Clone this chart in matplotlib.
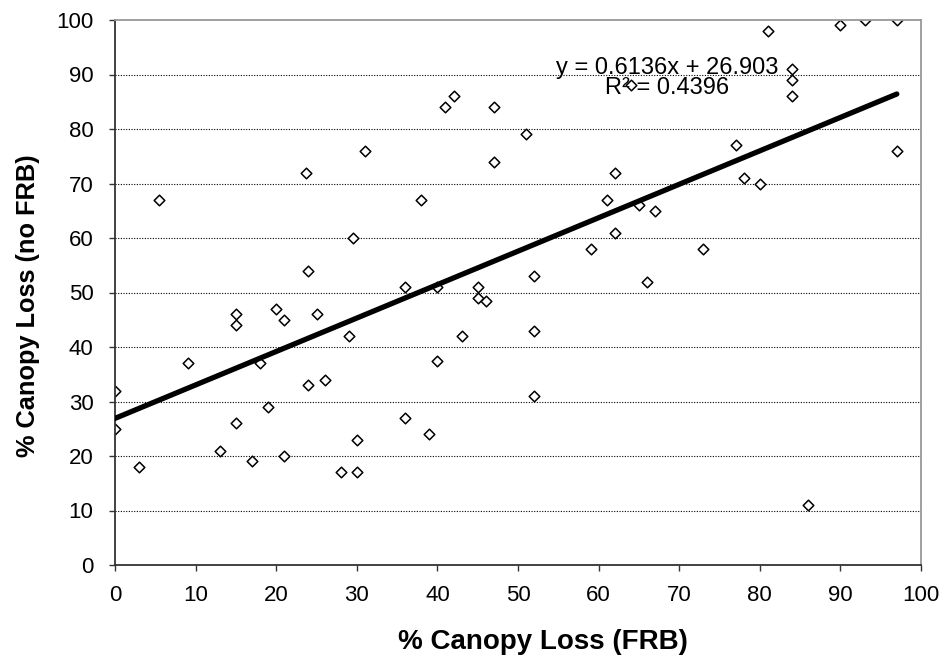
import numpy as np
import matplotlib.pyplot as plt

# % canopy loss, with FRB (x) and without FRB (y)
frb = [0, 0, 3, 5.4, 9, 13, 15, 15, 15, 17, 18, 19, 20, 21, 21, 23.7, 24, 24,
       25, 26, 28, 29, 29.5, 30, 30, 31, 36, 36, 38, 39, 40, 40, 41, 42, 43,
       45, 45, 46, 47, 47, 51, 52, 52, 52, 59, 61, 62, 62, 64, 65, 66, 67, 73,
       77, 78, 80, 81, 84, 84, 84, 86, 90, 93, 97, 97]
no_frb = [32, 25, 18, 67, 37, 21, 46, 44, 26, 19, 37, 29, 47, 45, 20, 72, 54, 33,
          46, 34, 17, 42, 60, 23, 17, 76, 51, 27, 67, 24, 51, 37.5, 84, 86, 42,
          51, 49, 48.5, 84, 74, 79, 53, 43, 31, 58, 67, 72, 61, 88, 66, 52, 65, 58,
          77, 71, 70, 98, 91, 89, 86, 11, 99, 100, 100, 76]

# linear trendline as reported on the chart
slope = 0.6136
intercept = 26.903
r_squared = 0.4396

plt.rcParams['font.family'] = ['Liberation Sans', 'DejaVu Sans']

fig = plt.figure(figsize=(9.44, 6.58), dpi=100)
ax = fig.add_axes([115 / 944, 93 / 658, 806 / 944, 545 / 658])

ax.scatter(frb, no_frb, marker='D', s=5.4 ** 2, facecolors='white',
           edgecolors='black', linewidths=1.1, zorder=2)

xs = np.array([min(frb), max(frb)])
ax.plot(xs, slope * xs + intercept, color='black', lw=3.8,
        solid_capstyle='round', zorder=3)

ax.set_xlim(0, 100)
ax.set_ylim(0, 100)
ax.set_xticks(range(0, 101, 10))
ax.set_yticks(range(0, 101, 10))
ax.tick_params(axis='both', direction='out', length=4.5, width=1,
               colors='#333333', labelcolor='black', labelsize=16)
ax.tick_params(axis='x', pad=10)
ax.tick_params(axis='y', pad=11)

for y in range(10, 100, 10):
    ax.axhline(y, color='black', lw=0.8, dashes=(1, 1.4), zorder=1)

ax.spines['left'].set_color('#333333')
ax.spines['bottom'].set_color('#333333')
ax.spines['top'].set_color('#999999')
ax.spines['right'].set_color('#999999')
for s in ax.spines.values():
    s.set_linewidth(1.3)

fig.text(543 / 944, 1 - 649 / 658, '% Canopy Loss (FRB)', fontsize=20,
         fontweight='bold', ha='center', va='baseline')
fig.text(35 / 944, 1 - 306 / 658, '% Canopy Loss (no FRB)', fontsize=18.3,
         fontweight='bold', ha='center', va='baseline', rotation=90,
         rotation_mode='anchor')

ax.text(68.5, 90.1, f'y = {slope}x + {intercept}', fontsize=17,
        ha='center', va='baseline', zorder=4)
ax.text(68.5, 86.4, f'R² = {r_squared}', fontsize=17,
        ha='center', va='baseline', zorder=4)

fig.savefig('out.png', dpi=100)
